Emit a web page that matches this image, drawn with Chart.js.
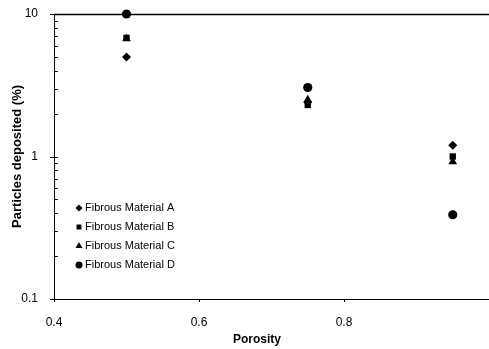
<!DOCTYPE html>
<html>
<head>
<meta charset="utf-8">
<script src="https://cdn.jsdelivr.net/npm/chart.js@4/dist/chart.umd.min.js"></script>
<style>
  html, body { margin: 0; padding: 0; background: #fff; }
  #wrap { width: 489px; height: 349px; position: relative; }
</style>
</head>
<body>
<div id="wrap"><canvas id="c" width="489" height="349"></canvas></div>
<script>
// Porosity of each fibrous material and the percentage of particles deposited
const porosity = [0.5, 0.75, 0.95];
const materialA = [5.0, 2.4, 1.2];
const materialB = [6.8, 2.3, 1.0];
const materialC = [6.7, 2.5, 0.92];
const materialD = [10, 3.05, 0.39];

const seriesNames = ['Fibrous Material A', 'Fibrous Material B', 'Fibrous Material C', 'Fibrous Material D'];
const xTickLabels = ['0.4', '0.6', '0.8'];
const yTickLabels = ['0.1', '1', '10'];
const yTickValues = [0.1, 0.2, 0.3, 0.4, 0.5, 0.6, 0.7, 0.8, 0.9, 1, 2, 3, 4, 5, 6, 7, 8, 9, 10];
const xTitle = 'Porosity';
const yTitle = 'Particles deposited (%)';

const FONT = '"Liberation Sans", Arial, sans-serif';

function toPoints(ys) {
  return porosity.map((x, i) => ({ x: x, y: ys[i] }));
}

const styles = [
  { pointStyle: 'rectRot', pointRadius: 4.5 },
  { pointStyle: 'rect', pointRadius: 4.5 },
  { pointStyle: 'triangle', pointRadius: 5 },
  { pointStyle: 'circle', pointRadius: 4.6 }
];

const datasets = [materialA, materialB, materialC, materialD].map((vals, i) => ({
  label: seriesNames[i],
  data: toPoints(vals),
  showLine: false,
  clip: false,
  pointStyle: styles[i].pointStyle,
  pointRadius: styles[i].pointRadius,
  pointHoverRadius: styles[i].pointRadius,
  backgroundColor: '#000',
  borderColor: '#000',
  borderWidth: 0
}));

// Axis frame: top rule, inward log ticks on the y axis, small ticks on x axis, x title
const framePlugin = {
  id: 'frame',
  afterDraw(chart) {
    const ctx = chart.ctx;
    const area = chart.chartArea;
    const ys = chart.scales.y;
    const xs = chart.scales.x;
    ctx.save();
    ctx.strokeStyle = '#000';
    // top rule at the upper limit of the value axis
    ctx.lineWidth = 1.5;
    ctx.beginPath();
    ctx.moveTo(area.left, area.top + 0.5);
    ctx.lineTo(area.right, area.top + 0.5);
    ctx.stroke();
    // y ticks
    ctx.lineWidth = 1;
    yTickValues.forEach(v => {
      const py = Math.round(ys.getPixelForValue(v)) + 0.5;
      const major = yTickLabels.includes(String(v));
      ctx.beginPath();
      ctx.moveTo(area.left - (major ? 4 : 0), py);
      ctx.lineTo(area.left + 4, py);
      ctx.stroke();
    });
    // x ticks
    xs.ticks.forEach(t => {
      const px = Math.round(xs.getPixelForValue(t.value)) + 0.5;
      ctx.beginPath();
      ctx.moveTo(px, area.bottom);
      ctx.lineTo(px, area.bottom + 3);
      ctx.stroke();
    });
    // x axis title
    ctx.fillStyle = '#000';
    ctx.font = 'bold 12px ' + FONT;
    ctx.textAlign = 'center';
    ctx.textBaseline = 'middle';
    ctx.fillText(xTitle, 257, 340);
    ctx.restore();
  }
};

// Legend placed inside the plot, lower left
const innerLegend = {
  id: 'innerLegend',
  afterDatasetsDraw(chart) {
    const ctx = chart.ctx;
    const x0 = 79, y0 = 208, step = 19;
    ctx.save();
    ctx.font = '11px ' + FONT;
    ctx.fillStyle = '#000';
    ctx.textBaseline = 'middle';
    ctx.textAlign = 'left';
    chart.data.datasets.forEach((ds, i) => {
      const y = y0 + i * step;
      Chart.helpers.drawPoint(ctx, {
        pointStyle: ds.pointStyle,
        radius: ds.pointStyle === 'triangle' ? 4 : 3.5,
        borderWidth: 0,
        rotation: 0
      }, x0, y);
      ctx.fillStyle = '#000';
      ctx.fillText(ds.label, x0 + 6, y);
    });
    ctx.restore();
  }
};

new Chart(document.getElementById('c'), {
  type: 'scatter',
  data: { datasets: datasets },
  plugins: [framePlugin, innerLegend],
  options: {
    responsive: false,
    animation: false,
    events: [],
    layout: { autoPadding: false, padding: { top: 14, right: 0, left: 0, bottom: 0 } },
    plugins: {
      legend: { display: false },
      tooltip: { enabled: false }
    },
    scales: {
      x: {
        type: 'linear',
        min: 0.4,
        max: 1.0,
        afterFit(scale) {
          scale.height = 50;
          scale.paddingLeft = 0;
          scale.paddingRight = 0;
        },
        ticks: {
          stepSize: 0.2,
          color: '#000',
          font: { family: FONT, size: 12 },
          padding: 8,
          maxRotation: 0,
          callback(v) {
            const s = v.toFixed(1);
            return xTickLabels.includes(s) ? s : '';
          }
        },
        grid: { display: false },
        border: { display: true, color: '#000', width: 1 },
        title: { display: false }
      },
      y: {
        type: 'logarithmic',
        min: 0.1,
        max: 10,
        afterBuildTicks(scale) {
          scale.ticks = yTickValues.map(v => ({ value: v }));
        },
        afterFit(scale) {
          scale.width = 54;
          scale.paddingTop = 0;
          scale.paddingBottom = 0;
        },
        ticks: {
          autoSkip: false,
          color: '#000',
          font: { family: FONT, size: 12 },
          padding: 8,
          callback(v) {
            const s = String(v);
            return yTickLabels.includes(s) ? s : '';
          }
        },
        grid: { display: false },
        border: { display: true, color: '#000', width: 1 },
        title: {
          display: true,
          text: yTitle,
          color: '#000',
          font: { family: FONT, size: 13, weight: 'bold' },
          padding: { top: 10, bottom: 0 }
        }
      }
    }
  }
});
</script>
</body>
</html>
